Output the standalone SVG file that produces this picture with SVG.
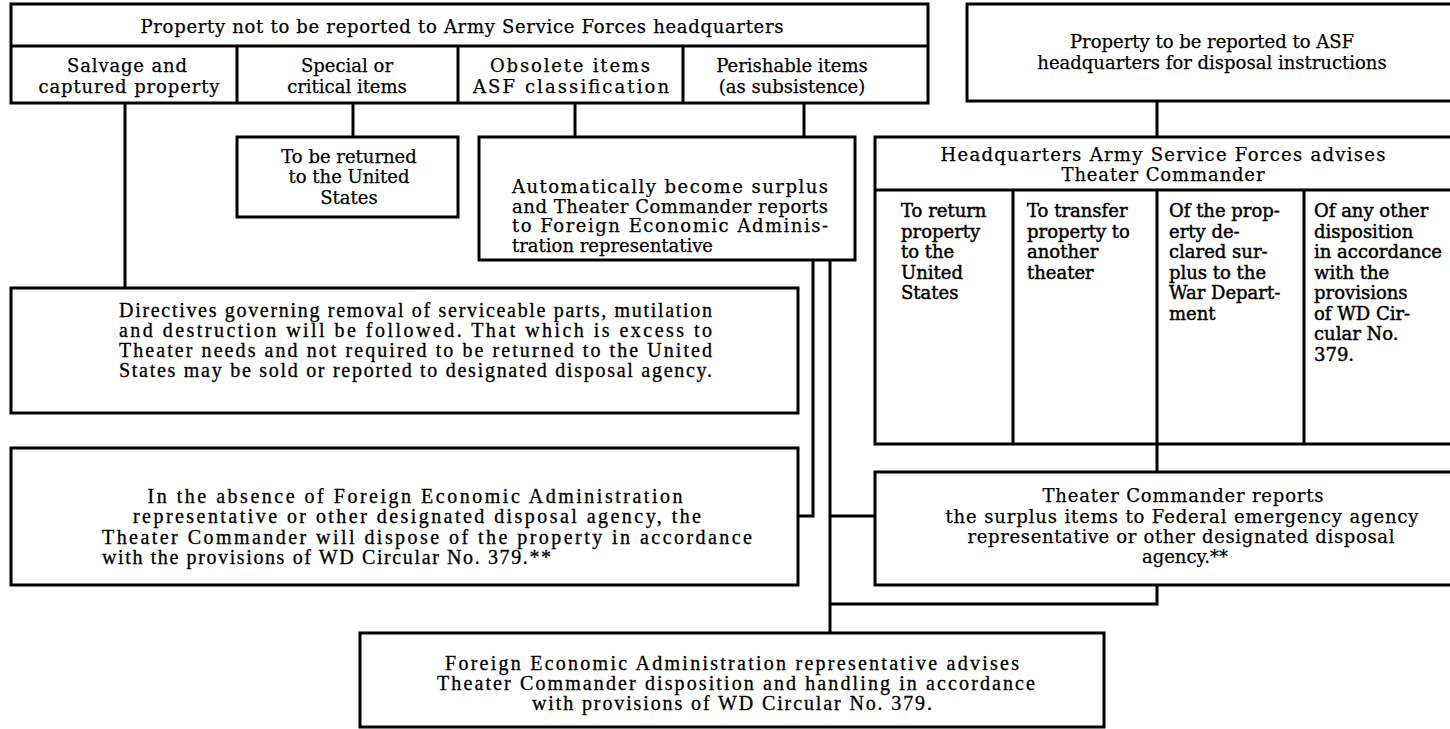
<svg xmlns="http://www.w3.org/2000/svg" width="1450" height="729" viewBox="0 0 1450 729">
<style>
.box{fill:#fff;stroke:#000;stroke-width:3}
.ln{fill:none;stroke:#000;stroke-width:3}
.t{font-family:"DejaVu Serif","Liberation Serif",serif;font-size:18px;fill:#000;stroke:#000;stroke-width:0.25}
.c{text-anchor:middle}
.n{font-family:"Liberation Serif","DejaVu Serif",serif;font-size:20px;fill:#000;stroke:#000;stroke-width:0.3}
.b{stroke-width:0.45}
</style>
<rect width="1450" height="729" fill="#fff"/>
<g id="connectors">
<path class="ln" d="M125,103V288 M353,103V137 M575,103V137 M804,103V137 M1157,101V137 M813,260V516H798 M830,260V633 M830,516H875 M830,604H1157V585 M1157,444V472"/>
</g>
<g id="not-reported">
<rect class="box" x="11" y="4" width="917" height="99"/>
<path class="ln" d="M11,46H928 M237,46V103 M458,46V103 M683,46V103"/>
<text class="t c" x="462" y="33" textLength="643">Property not to be reported to Army Service Forces headquarters</text>
</g>
<g id="salvage">
<text class="t c" x="127" y="72" textLength="120">Salvage and</text>
<text class="t c" x="129" y="93" textLength="181">captured  property</text>
</g>
<g id="special">
<text class="t c" x="347" y="72">Special or</text>
<text class="t c" x="347" y="93">critical items</text>
</g>
<g id="obsolete">
<text class="t c" x="570" y="72" textLength="160">Obsolete items</text>
<text class="t c" x="571" y="93" textLength="196">ASF classification</text>
</g>
<g id="perishable">
<text class="t c" x="792" y="72">Perishable items</text>
<text class="t c" x="792" y="93">(as subsistence)</text>
</g>
<g id="to-be-reported">
<rect class="box" x="967" y="4" width="495" height="97"/>
<text class="t c" x="1212" y="48">Property to be reported to ASF</text>
<text class="t c" x="1212" y="69">headquarters for disposal instructions</text>
</g>
<g id="returned-us">
<rect class="box" x="237" y="137" width="221" height="80"/>
<text class="t c" x="349" y="163">To be returned</text>
<text class="t c" x="349" y="183">to the United</text>
<text class="t c" x="349" y="204">States</text>
</g>
<g id="auto-surplus">
<rect class="box" x="479" y="137" width="376" height="123"/>
<text class="t" x="512" y="193" textLength="316">Automatically become surplus</text>
<text class="t" x="512" y="213" textLength="316">and Theater Commander reports</text>
<text class="t" x="512" y="232" textLength="316">to Foreign Economic Adminis-</text>
<text class="t" x="512" y="252">tration representative</text>
</g>
<g id="hq-advises">
<rect class="box" x="875" y="137" width="590" height="307"/>
<path class="ln" d="M875,190H1465 M1013,190V444 M1157,190V444 M1304,190V444"/>
<text class="t c" x="1163" y="161" textLength="445">Headquarters Army Service Forces advises</text>
<text class="t c" x="1163" y="181" textLength="203">Theater Commander</text>
<g class="t b">
<text x="901" y="217">To return</text>
<text x="901" y="238">property</text>
<text x="901" y="258">to the</text>
<text x="901" y="279">United</text>
<text x="901" y="299">States</text>
<text x="1027" y="217">To transfer</text>
<text x="1027" y="238">property to</text>
<text x="1027" y="258">another</text>
<text x="1027" y="279">theater</text>
<text x="1169" y="217">Of the prop-</text>
<text x="1169" y="238">erty de-</text>
<text x="1169" y="258">clared sur-</text>
<text x="1169" y="279">plus to the</text>
<text x="1169" y="299">War Depart-</text>
<text x="1169" y="320">ment</text>
<text x="1314" y="217">Of any other</text>
<text x="1314" y="238">disposition</text>
<text x="1314" y="258">in accordance</text>
<text x="1314" y="279">with the</text>
<text x="1314" y="299">provisions</text>
<text x="1314" y="320">of WD Cir-</text>
<text x="1314" y="340">cular No.</text>
<text x="1314" y="361">379.</text>
</g>
</g>
<g id="directives">
<rect class="box" x="11" y="288" width="787" height="125"/>
<text class="n" x="119" y="317" textLength="593">Directives governing removal of serviceable parts, mutilation</text>
<text class="n" x="119" y="337" textLength="593">and destruction will be followed.  That which is excess to</text>
<text class="n" x="119" y="357" textLength="593">Theater needs and not required to be returned to the United</text>
<text class="n" x="119" y="377" textLength="593">States may be sold or reported to designated disposal agency.</text>
</g>
<g id="absence-fea">
<rect class="box" x="11" y="448" width="787" height="137"/>
<text class="n c" x="415" y="503" textLength="535">In the absence of Foreign Economic Administration</text>
<text class="n c" x="417" y="523" textLength="568">representative or other designated disposal agency, the</text>
<text class="n" x="102" y="544" textLength="650">Theater Commander will dispose of the property in accordance</text>
<text class="n" x="102" y="564" textLength="449">with the provisions of WD Circular No. 379.**</text>
</g>
<g id="tc-reports">
<rect class="box" x="875" y="472" width="590" height="113"/>
<text class="t c" x="1183" y="502" textLength="281">Theater Commander reports</text>
<text class="t c" x="1182" y="523" textLength="473">the surplus items to Federal emergency agency</text>
<text class="t c" x="1181" y="543" textLength="427">representative or other designated disposal</text>
<text class="t c" x="1185" y="563">agency.**</text>
</g>
<g id="fea-advises">
<rect class="box" x="360" y="633" width="744" height="94"/>
<text class="n c" x="732" y="670" textLength="574">Foreign Economic Administration representative advises</text>
<text class="n c" x="736" y="690" textLength="598">Theater Commander disposition and handling in accordance</text>
<text class="n c" x="732" y="710" textLength="400">with provisions of WD Circular No. 379.</text>
</g>
</svg>
